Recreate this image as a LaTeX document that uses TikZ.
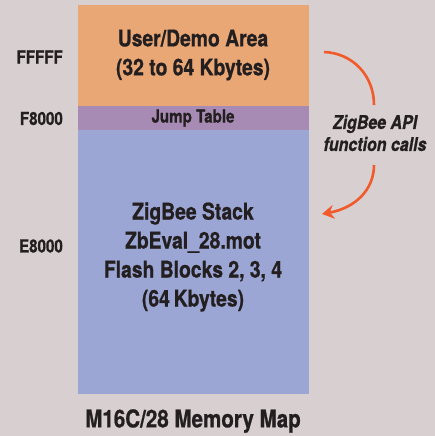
\documentclass[tikz,border=0pt]{standalone}
\usepackage{fontspec}
\setmainfont{TeX Gyre Heros}[FakeStretch=0.84, BoldFeatures={FakeBold=0.8}, BoldItalicFeatures={FakeBold=0.8}]
\usetikzlibrary{arrows.meta}
\definecolor{bgc}{HTML}{D8CFD0}
\definecolor{orng}{HTML}{E9A776}
\definecolor{purp}{HTML}{A78BB4}
\definecolor{blu}{HTML}{9CA6D4}
\definecolor{arr}{HTML}{F15A2B}
\definecolor{txt}{HTML}{231F20}
\tikzset{
  region/.style={inner sep=0pt, outer sep=0pt, minimum width=231pt, anchor=north west},
  bigtxt/.style={text=txt, font=\bfseries\fontsize{23}{29}\selectfont, align=center},
  addr/.style={text=txt, font=\bfseries\fontsize{18}{20}\selectfont, anchor=east, inner sep=0pt},
  apiarrow/.style={draw=arr, line width=2.6pt}
}
\begin{document}
\begin{tikzpicture}[x=1pt,y=-1pt]
\fill[bgc] (0,0) rectangle (435,436);
\useasboundingbox (0,0) rectangle (435,436);
\node[region, fill=orng, minimum height=101pt] (user) at (78,5) {};
\node[region, fill=purp, minimum height=24pt] (jump) at (78,106) {};
\node[region, fill=blu, minimum height=264pt] (stack) at (78,130) {};
\node[bigtxt] (usertxt) at (193,55) {User/Demo Area\\(32 to 64 Kbytes)};
\node[text=txt, font=\bfseries\fontsize{18}{20}\selectfont] (jumptxt) at (193,118) {Jump Table};
\node[bigtxt] (stacktxt) at (193,257) {ZigBee Stack\\ZbEval\_28.mot\\Flash Blocks 2, 3, 4\\(64\,Kbytes)};
\node[addr] (a1) at (63,57) {FFFFF};
\node[addr] (a2) at (63,118.5) {F8000};
\node[addr] (a3) at (63,246) {E8000};
\node[text=txt, font=\bfseries\itshape\fontsize{19}{22}\selectfont, align=center] (api) at (375,133) {ZigBee API\\function calls};
\node[text=txt, font=\bfseries\fontsize{24.5}{29}\selectfont] (title) at (193,421) {M16C/28 Memory Map};
\coordinate (s1) at (324,52);
\coordinate (e1) at (374,105);
\coordinate (s2) at (374,165);
\coordinate (e2) at (322,214);
\draw[apiarrow] (s1) .. controls (352,53) and (374,75) .. (e1);
\draw[apiarrow, -{Stealth[length=12pt, width=14pt, inset=4pt]}] (s2) .. controls (374,190) and (355,208) .. (e2);
\end{tikzpicture}
\end{document}
